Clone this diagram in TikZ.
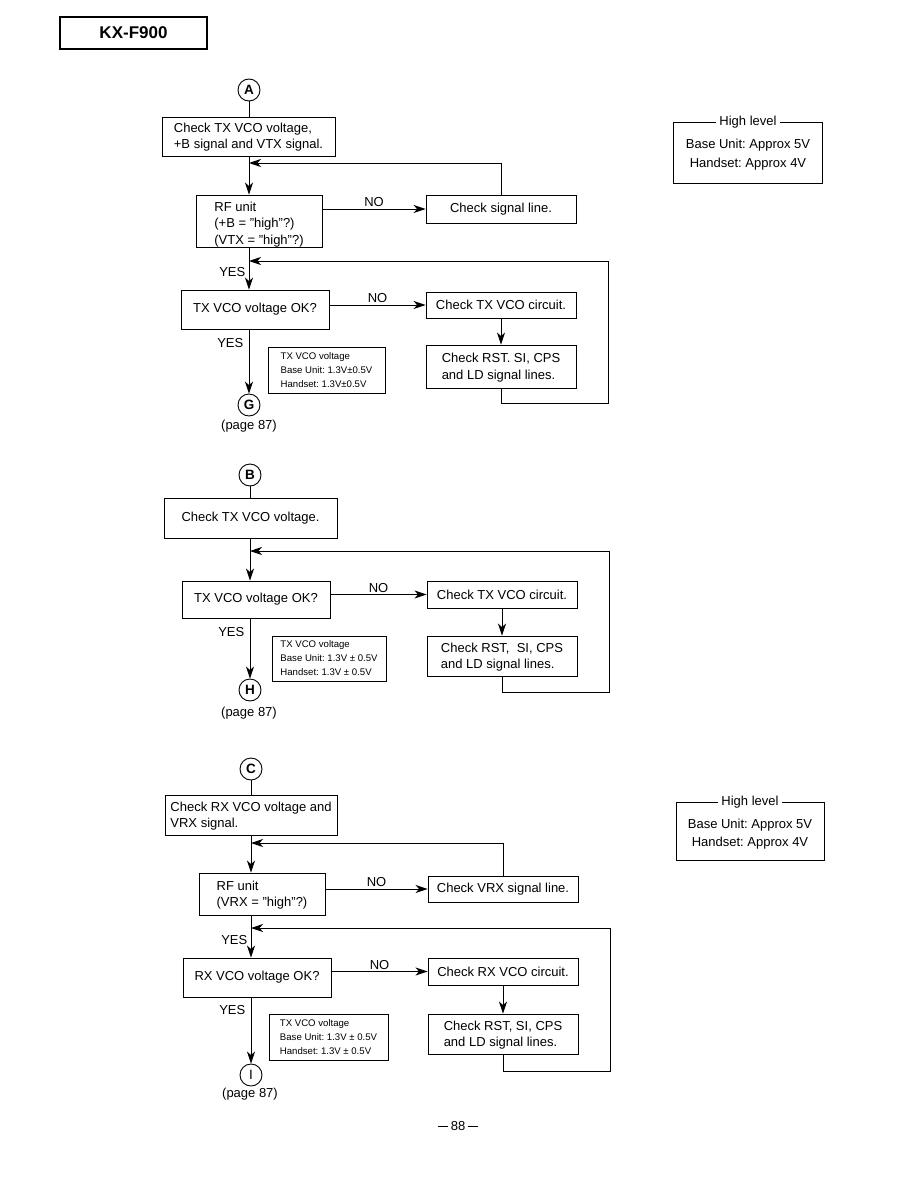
\documentclass[tikz,border=0pt]{standalone}
\usepackage{fontspec}
\setmainfont{Liberation Sans}
\usetikzlibrary{arrows.meta}
\newcommand{\qq}{\symbol{34}}
\newcommand{\pgdash}{\raisebox{3.6pt}{\rule{10pt}{0.9pt}}}
\begin{document}
\frenchspacing
\begin{tikzpicture}[x=1pt,y=-1pt,
  every node/.style={font=\fontsize{13}{16.5}\selectfont},
  box/.style={draw, line width=0.9pt, inner sep=0pt, align=left},
  note/.style={draw, line width=0.9pt, inner sep=0pt, align=left, font=\fontsize{9.6}{14}\selectfont},
  circ/.style={draw, circle, line width=0.9pt, minimum size=22pt, inner sep=0pt, font=\bfseries\fontsize{13.5}{14}\selectfont},
  arr/.style={line width=0.9pt, -{Stealth[length=12pt,width=8pt,inset=3.5pt]}},
  ln/.style={line width=0.9pt},
  lbl/.style={inner sep=1.5pt}
]
\useasboundingbox (0,0) rectangle (918,1188);

% header
\node[draw, line width=1.3pt, minimum width=147pt, minimum height=32pt, inner sep=0pt, font=\bfseries\fontsize{17}{20}\selectfont] (hdr) at (133.5,33) {KX-F900};

% ===== Section A =====
\node[circ] (cA) at (249,90) {A};
\node[box, minimum width=173pt, minimum height=39pt] (a1) at (248.5,136.5) {\rule{0pt}{11pt}Check TX VCO voltage,\\+B signal and VTX signal.};
\node[box, minimum width=126pt, minimum height=52pt] (a2) at (259,221) {\rule{0pt}{16pt}RF unit\\(+B = \qq high\qq ?)\\(VTX = \qq high\qq ?)};
\node[box, minimum width=150pt, minimum height=28pt, align=center] (a2n) at (501,209) {Check signal line.};
\node[box, minimum width=148pt, minimum height=39pt, align=center] (a3) at (255,309.5) {TX VCO voltage OK?};
\node[box, minimum width=150pt, minimum height=26pt, align=center] (a3n) at (501,305) {Check TX VCO circuit.};
\node[box, minimum width=150pt, minimum height=43pt] (a4) at (501,366.5) {\rule{0pt}{12pt}Check RST. SI, CPS\\and LD signal lines.};
\node[note, minimum width=117pt, minimum height=46pt] (nA) at (326.5,370) {TX VCO voltage\\Base Unit: 1.3V±0.5V\\Handset: 1.3V±0.5V};
\node[circ] (cG) at (249,405) {G};
\node (pA) at (249,426) {(page 87)};
\node[lbl, anchor=east] (yA1) at (247,272) {YES};
\node[lbl, anchor=east] (yA2) at (245,343) {YES};

\coordinate (fA1) at (249,163);
\coordinate (fA2) at (249,261);
\coordinate (rA1) at (608,403);
\coordinate (rA2) at (608,261);

\draw[ln] (cA.south) -- (a1.north -| cA);
\draw[arr] (a1.south -| cA) -- (a2.north -| cA);
\draw[arr] (a2n.north) |- (fA1);
\draw[arr] (a2.east |- a2n.west) -- (a2n.west) node[midway, above, lbl] (nA1) {NO};
\draw[arr] (a2.south -| cA) -- (a3.north -| cA);
\draw[arr] (a3.east |- a3n.west) -- (a3n.west) node[midway, above, lbl] (nA2) {NO};
\draw[arr] (a3n.south) -- (a4.north);
\draw[arr] (a4.south) |- (rA1) -- (rA2) -- (fA2);
\draw[arr] (a3.south -| cA) -- (cG.north);

% High level box (top)
\draw[ln] (673,122) rectangle (822,183);
\node[fill=white, inner xsep=3pt, inner ysep=1pt] (hl1) at (748,122) {High level};
\node (hl1a) at (748,145) {Base Unit: Approx 5V};
\node (hl1b) at (748,164) {Handset: Approx 4V};

% ===== Section B =====
\node[circ] (cB) at (250,475) {B};
\node[box, minimum width=173pt, minimum height=40pt, align=center] (b1) at (250.5,518) {Check TX VCO voltage.};
\node[box, minimum width=148pt, minimum height=37pt, align=center] (b3) at (256,599.5) {TX VCO voltage OK?};
\node[box, minimum width=150pt, minimum height=27pt, align=center] (b3n) at (502,594.5) {Check TX VCO circuit.};
\node[box, minimum width=150pt, minimum height=40pt] (b4) at (502,656) {\rule{0pt}{12pt}Check RST,\ \ SI, CPS\\and LD signal lines.};
\node[note, minimum width=114pt, minimum height=45pt] (nB) at (329,658.5) {TX VCO voltage\\Base Unit: 1.3V ± 0.5V\\Handset: 1.3V ± 0.5V};
\node[circ] (cH) at (250,690) {H};
\node (pB) at (249,713) {(page 87)};
\node[lbl, anchor=east] (yB) at (246,632) {YES};

\coordinate (fB) at (250,551);
\coordinate (rB1) at (609,692);
\coordinate (rB2) at (609,551);

\draw[ln] (cB.south) -- (b1.north -| cB);
\draw[arr] (b1.south -| cB) -- (b3.north -| cB);
\draw[arr] (b3.east |- b3n.west) -- (b3n.west) node[midway, above, lbl] (nB1) {NO};
\draw[arr] (b3n.south) -- (b4.north);
\draw[arr] (b4.south) |- (rB1) -- (rB2) -- (fB);
\draw[arr] (b3.south -| cB) -- (cH.north);

% ===== Section C =====
\node[circ] (cC) at (251,769) {C};
\node[box, minimum width=172pt, minimum height=40pt] (c1) at (251,815) {\rule{0pt}{12pt}Check RX VCO voltage and\\VRX signal.\hspace*{6.6em}};
\node[box, minimum width=126pt, minimum height=42pt] (c2) at (262,894) {\rule{0pt}{12pt}RF unit\\(VRX = \qq high\qq ?)};
\node[box, minimum width=150pt, minimum height=26pt, align=center] (c2n) at (503,889) {Check VRX signal line.};
\node[box, minimum width=148pt, minimum height=39pt, align=center] (c3) at (257,977.5) {RX VCO voltage OK?};
\node[box, minimum width=150pt, minimum height=27pt, align=center] (c3n) at (503,971.5) {Check RX VCO circuit.};
\node[box, minimum width=150pt, minimum height=40pt] (c4) at (503,1034) {\rule{0pt}{12pt}Check RST, SI, CPS\\and LD signal lines.};
\node[note, minimum width=119pt, minimum height=46pt] (nC) at (328.5,1037) {TX VCO voltage\\Base Unit: 1.3V ± 0.5V\\Handset: 1.3V ± 0.5V};
\node[circ, font=\fontsize{13.5}{14}\selectfont] (cI) at (251,1075) {I};
\node (pC) at (250,1094) {(page 87)};
\node[lbl, anchor=east] (yC1) at (249,940) {YES};
\node[lbl, anchor=east] (yC2) at (247,1010) {YES};

\coordinate (fC1) at (251,843);
\coordinate (fC2) at (251,928);
\coordinate (rC1) at (610,1071);
\coordinate (rC2) at (610,928);

\draw[ln] (cC.south) -- (c1.north -| cC);
\draw[arr] (c1.south -| cC) -- (c2.north -| cC);
\draw[arr] (c2n.north) |- (fC1);
\draw[arr] (c2.east |- c2n.west) -- (c2n.west) node[midway, above, lbl] (nC1) {NO};
\draw[arr] (c2.south -| cC) -- (c3.north -| cC);
\draw[arr] (c3.east |- c3n.west) -- (c3n.west) node[midway, above, lbl] (nC2) {NO};
\draw[arr] (c3n.south) -- (c4.north);
\draw[arr] (c4.south) |- (rC1) -- (rC2) -- (fC2);
\draw[arr] (c3.south -| cC) -- (cI.north);

% High level box (bottom)
\draw[ln] (676,802) rectangle (824,860);
\node[fill=white, inner xsep=3pt, inner ysep=1pt] (hl2) at (750,802) {High level};
\node (hl2a) at (750,825) {Base Unit: Approx 5V};
\node (hl2b) at (750,843) {Handset: Approx 4V};

% page number
\node (pg) at (458,1126) {\pgdash\kern2.5pt 88\kern2.5pt\pgdash};
\end{tikzpicture}
\end{document}
